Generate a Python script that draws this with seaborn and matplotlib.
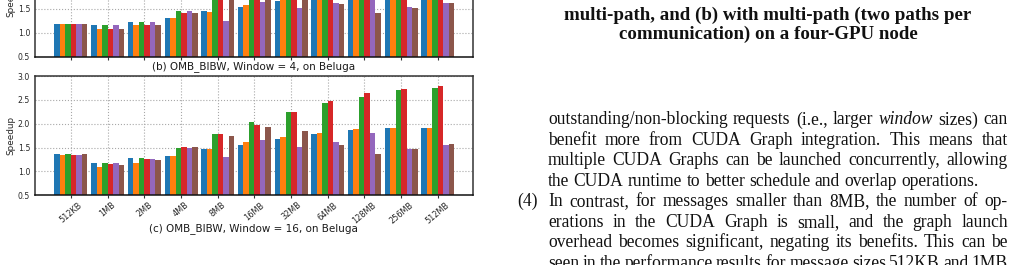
import numpy as np
import pandas as pd
import seaborn as sns
import matplotlib
matplotlib.use("Agg")
import matplotlib.pyplot as plt

# ---------------- data ----------------
sizes = ["512KB", "1MB", "2MB", "4MB", "8MB", "16MB", "32MB", "64MB", "128MB", "256MB", "512MB"]
configs = ["Config 1", "Config 2", "Config 3", "Config 4", "Config 5", "Config 6"]

# (b) Window = 4
win4_c1 = [1.18, 1.16, 1.23, 1.31, 1.46, 1.54, 1.67, 1.75, 1.80, 1.83, 1.85]
win4_c2 = [1.18, 1.08, 1.16, 1.31, 1.44, 1.59, 1.72, 1.77, 1.82, 1.85, 1.87]
win4_c3 = [1.18, 1.16, 1.23, 1.46, 1.75, 1.90, 2.05, 2.20, 2.30, 2.40, 2.45]
win4_c4 = [1.18, 1.08, 1.16, 1.42, 1.75, 1.88, 2.05, 2.25, 2.35, 2.45, 2.50]
win4_c5 = [1.18, 1.16, 1.23, 1.46, 1.25, 1.65, 1.52, 1.63, 1.72, 1.54, 1.63]
win4_c6 = [1.18, 1.08, 1.16, 1.42, 1.74, 1.80, 1.78, 1.61, 1.42, 1.52, 1.63]

# (c) Window = 16
win16_c1 = [1.37, 1.18, 1.29, 1.33, 1.48, 1.56, 1.69, 1.78, 1.86, 1.90, 1.90]
win16_c2 = [1.35, 1.10, 1.18, 1.33, 1.46, 1.61, 1.73, 1.80, 1.88, 1.92, 1.92]
win16_c3 = [1.37, 1.18, 1.29, 1.50, 1.78, 2.03, 2.24, 2.43, 2.56, 2.70, 2.75]
win16_c4 = [1.35, 1.16, 1.27, 1.52, 1.78, 1.97, 2.24, 2.47, 2.64, 2.73, 2.79]
win16_c5 = [1.35, 1.18, 1.27, 1.50, 1.31, 1.65, 1.52, 1.61, 1.80, 1.48, 1.56]
win16_c6 = [1.37, 1.14, 1.25, 1.52, 1.75, 1.94, 1.84, 1.56, 1.37, 1.48, 1.58]

caption_lines = [
    "multi-path, and (b) with multi-path (two paths per",
    "communication) on a four-GPU node",
]

body_lines = [
    ("", [("outstanding/non-blocking", "normal"), ("requests", "normal"), ("(i.e.,", "normal"),
          ("larger", "normal"), ("window", "italic"), ("sizes)", "normal"), ("can", "normal")], True),
    ("", [(w, "normal") for w in "benefit more from CUDA Graph integration. This means that".split()], True),
    ("", [(w, "normal") for w in "multiple CUDA Graphs can be launched concurrently, allowing".split()], True),
    ("", [(w, "normal") for w in "the CUDA runtime to better schedule and overlap operations.".split()], False),
    ("(4)", [(w, "normal") for w in "In contrast, for messages smaller than 8MB, the number of op-".split()], True),
    ("", [(w, "normal") for w in "erations in the CUDA Graph is small, and the graph launch".split()], True),
    ("", [(w, "normal") for w in "overhead becomes significant, negating its benefits. This can be".split()], True),
    ("", [(w, "normal") for w in "seen in the performance results for message sizes 512KB and 1MB".split()], True),
]


def long_frame(series):
    rows = []
    for cfg, vals in zip(configs, series):
        for s, v in zip(sizes, vals):
            rows.append({"size": s, "config": cfg, "speedup": v})
    return pd.DataFrame(rows)


df4 = long_frame([win4_c1, win4_c2, win4_c3, win4_c4, win4_c5, win4_c6])
df16 = long_frame([win16_c1, win16_c2, win16_c3, win16_c4, win16_c5, win16_c6])

palette = sns.color_palette("tab10", 6)

W, H = 1017, 265
fig = plt.figure(figsize=(W / 100, H / 100), dpi=100)
fig.patch.set_facecolor("white")
renderer = fig.canvas.get_renderer()


def px_axes(left, top, right, bottom):
    return fig.add_axes([left / W, 1 - bottom / H, (right - left) / W, (bottom - top) / H])


def style_panel(ax, label, show_ticklabels):
    ax.set_ylim(0.5, 3.0)
    ax.set_xlim(-0.98, 10.95)
    ax.set_yticks([0.5, 1.0, 1.5, 2.0, 2.5, 3.0])
    ax.set_yticklabels(["0.5", "1.0", "1.5", "2.0", "2.5", "3.0"])
    ax.set_axisbelow(True)
    ax.grid(True, axis="both", linestyle=":", color="#a8a8a8", linewidth=0.8)
    ax.set_facecolor("white")
    for name, sp in ax.spines.items():
        sp.set_visible(True)
        sp.set_color("#333333" if name != "bottom" else "#111111")
        sp.set_linewidth(1.1)
    ax.tick_params(axis="y", length=0, pad=3.5, labelsize=5.6, labelcolor="#262626")
    ax.tick_params(axis="x", length=2.5, width=0.8, color="#333333", pad=1.2,
                   labelsize=5.9, labelcolor="#262626")
    ax.set_xticks(range(len(sizes)))
    if show_ticklabels:
        ax.set_xticklabels(sizes, rotation=40)
        pad = -1.8
    else:
        ax.tick_params(axis="x", labelbottom=False)
        pad = 0.5
    ax.set_ylabel("Speedup", fontsize=6.4, color="#262626", labelpad=1.8)
    ax.set_xlabel(label, fontsize=7.5, color="#1a1a1a", labelpad=pad)


# panel (b) — extends above the visible crop
ax_b = px_axes(35, 56.7 - 119.3, 472.7, 56.7)
sns.barplot(data=df4, x="size", y="speedup", hue="config", palette=palette,
            width=0.9, saturation=1, legend=False, ax=ax_b, errorbar=None)
style_panel(ax_b, "(b) OMB_BIBW, Window = 4, on Beluga", False)

# panel (c)
ax_c = px_axes(35, 76, 472.7, 195.3)
sns.barplot(data=df16, x="size", y="speedup", hue="config", palette=palette,
            width=0.9, saturation=1, legend=False, ax=ax_c, errorbar=None)
style_panel(ax_c, "(c) OMB_BIBW, Window = 16, on Beluga", True)

# ---------------- right-hand text ----------------
serif = ["Liberation Serif", "DejaVu Serif"]


def measure(s, size, **kw):
    t = fig.text(0, 0, s, fontsize=size, family=serif, **kw)
    w = t.get_window_extent(renderer).width
    t.remove()
    return w


# fit caption font so first line is ~407 px wide
cap_fs = 10 * 407 / measure(caption_lines[0], 10, fontweight="bold")
cap_y = [15, 34]
for line, y in zip(caption_lines, cap_y):
    fig.text(768 / W, 1 - y / H, line, ha="center", va="center", fontsize=cap_fs,
             fontweight="bold", family=serif, color="#111111")

x_left, x_right = 548, 1008
target = x_right - x_left
# one body font size so every justified line fits with at least ~0.7 of a normal space
sp10 = measure("a a", 10) - measure("aa", 10)
ratios = []
for marker, words, justify in body_lines:
    wsum = sum(measure(w, 10, style=st) for w, st in words)
    nat = wsum + 0.7 * sp10 * (len(words) - 1)
    ratios.append(nat / (target if justify else target - 10))
body_fs = min(10 * 455 / measure("benefit more from CUDA Graph integration. This means that", 10),
              10 / max(ratios) * 0.995)

base0, step = 124.5, 20.45
space_w = measure("a a", body_fs) - measure("aa", body_fs)
for i, (marker, words, justify) in enumerate(body_lines):
    yb = base0 + i * step
    yf = 1 - yb / H
    if marker:
        fig.text(517 / W, yf, marker, ha="left", va="baseline", fontsize=body_fs,
                 family=serif, color="#111111")
    texts = []
    widths = []
    for w, st in words:
        t = fig.text(0, yf, w, ha="left", va="baseline", fontsize=body_fs,
                     family=serif, style=st, color="#111111")
        texts.append(t)
        widths.append(t.get_window_extent(renderer).width)
    if justify and len(words) > 1:
        gap = (x_right - x_left - sum(widths)) / (len(words) - 1)
    else:
        gap = space_w
    x = x_left
    for t, wd in zip(texts, widths):
        t.set_x(x / W)
        x += wd + gap

fig.savefig("out.png", dpi=100, facecolor="white")
